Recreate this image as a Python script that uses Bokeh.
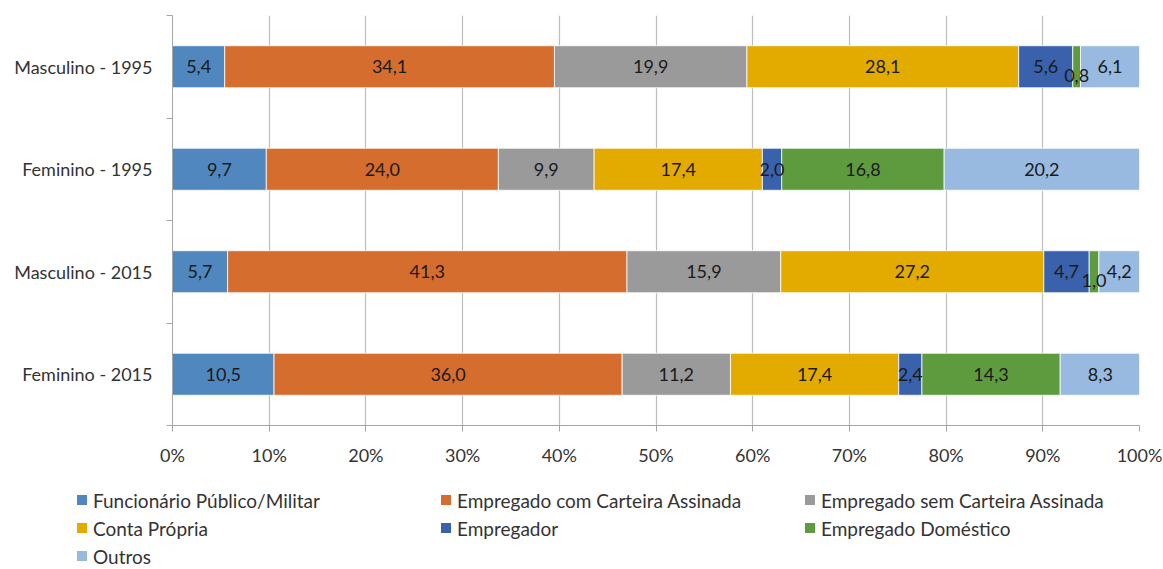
from bokeh.plotting import figure
from bokeh.layouts import column
from bokeh.models import ColumnDataSource, FixedTicker, Div
from bokeh.core.properties import value
from bokeh.embed import file_html
from bokeh.resources import INLINE

categories = ["Feminino - 2015", "Masculino - 2015", "Feminino - 1995", "Masculino - 1995"]
series = ["Funcionário Público/Militar", "Empregado com Carteira Assinada",
          "Empregado sem Carteira Assinada", "Conta Própria", "Empregador",
          "Empregado Doméstico", "Outros"]
colors = ["#4F87BE", "#D46D2D", "#9A9A9A", "#E3AA00", "#3A62AC", "#5E9A3E", "#98B9E0"]

funcionario = [10.5, 5.7, 9.7, 5.4]
com_carteira = [36.0, 41.3, 24.0, 34.1]
sem_carteira = [11.2, 15.9, 9.9, 19.9]
conta_propria = [17.4, 27.2, 17.4, 28.1]
empregador = [2.4, 4.7, 2.0, 5.6]
domestico = [14.3, 1.0, 16.8, 0.8]
outros = [8.3, 4.2, 20.2, 6.1]
xticks = [0, 10, 20, 30, 40, 50, 60, 70, 80, 90, 100]

data_cols = [funcionario, com_carteira, sem_carteira, conta_propria, empregador, domestico, outros]
keys = ["s%d" % i for i in range(len(series))]
ypos = [i + 0.5 for i in range(len(categories))]

src = {"y": ypos}
for k, col in zip(keys, data_cols):
    src[k] = col
source = ColumnDataSource(src)

FONT = "Lato"
FS = "18px"

p = figure(width=1163, height=470, x_range=(0, 100), y_range=(0, 4),
           output_backend="svg", toolbar_location=None,
           min_border_left=172, min_border_right=24, min_border_top=15, min_border_bottom=45)
p.outline_line_color = None
p.background_fill_color = "white"

p.hbar_stack(keys, y="y", height=0.41, color=colors, source=source,
             line_color="white", line_width=0.8)

# labels
lx, ly, lt, loff = [], [], [], []
for ci in range(len(categories)):
    cum = 0.0
    for col in data_cols:
        v = col[ci]
        lx.append(cum + v / 2.0)
        ly.append(ypos[ci])
        lt.append(("%.1f" % v).replace(".", ","))
        loff.append(9 if v < 1.5 else 0)
        cum += v
lsrc = ColumnDataSource(dict(x=lx, y=ly, t=lt, off=loff))
p.text(x="x", y="y", text="t", y_offset="off", source=lsrc, text_align="center",
       text_baseline="middle", text_font=value(FONT), text_font_size=FS,
       text_color="#1a1a1a")

# axes
p.xaxis.ticker = FixedTicker(ticks=xticks)
p.xaxis.major_label_overrides = {t: "%d%%" % t for t in xticks}
p.xaxis.axis_line_color = "#A6A6A6"
p.xaxis.major_tick_line_color = "#A6A6A6"
p.xaxis.major_tick_out = 6
p.xaxis.major_tick_in = 0
p.xaxis.minor_tick_line_color = None
p.xaxis.major_label_text_font = FONT
p.xaxis.major_label_text_font_size = FS
p.xaxis.major_label_text_color = "#333333"
p.xaxis.major_label_standoff = 12

p.yaxis.ticker = FixedTicker(ticks=ypos, minor_ticks=[0, 1, 2, 3, 4])
p.yaxis.major_label_overrides = {y: c for y, c in zip(ypos, categories)}
p.yaxis.axis_line_color = "#A6A6A6"
p.yaxis.major_tick_line_color = None
p.yaxis.minor_tick_line_color = "#A6A6A6"
p.yaxis.minor_tick_out = 6
p.yaxis.minor_tick_in = 0
p.yaxis.major_label_text_font = FONT
p.yaxis.major_label_text_font_size = FS
p.yaxis.major_label_text_color = "#333333"
p.yaxis.major_label_standoff = 14

p.xgrid.ticker = FixedTicker(ticks=xticks)
p.xgrid.grid_line_color = "#BDBDBD"
p.xgrid.grid_line_width = 1.2
p.ygrid.grid_line_color = None

# legend (HTML, below the plot)
cells = []
for s, c in zip(series, colors):
    cells.append(
        '<div style="display:flex;align-items:center;height:28px;">'
        '<span style="display:inline-block;width:10px;height:10px;background:%s;margin-right:6px;"></span>'
        '<span>%s</span></div>' % (c, s))
html = ('<div style="box-sizing:border-box;width:1163px;height:99px;overflow:hidden;'
        'padding:16px 0 0 77px;font-family:Lato;font-size:19px;color:#333333;line-height:1;'
        'display:grid;grid-template-columns:364px 364px 364px;grid-auto-rows:28px;">'
        + "".join(cells) + '</div>')
leg = Div(text=html, width=1163, height=99, margin=0)

open("out.html", "w").write(file_html(column(p, leg, spacing=0), INLINE))
